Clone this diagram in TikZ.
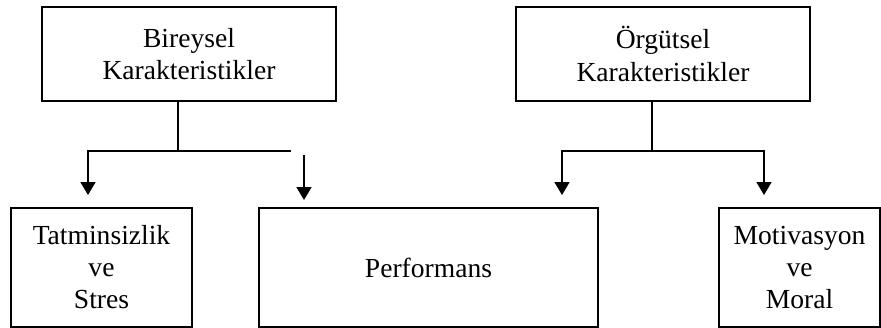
\documentclass[tikz,border=0pt]{standalone}
\usepackage{fontspec}
\setmainfont{Liberation Serif}
\usepackage{tikz}
\usetikzlibrary{shapes,arrows}
\usetikzlibrary{positioning}
\usetikzlibrary{arrows.meta}

\tikzset{
	box/.style={draw, line width=0.9pt, inner sep=0pt, align=center,
		font=\fontsize{19.6}{22.8}\selectfont},
	arr/.style={line width=0.9pt, -{Triangle[width=10.7pt,length=9.2pt]}},
	arrs/.style={line width=0.9pt, {Triangle[width=10.7pt,length=9.2pt]}-{Triangle[width=10.7pt,length=9.2pt]}},
	wire/.style={line width=0.9pt}
}

\begin{document}
\begin{tikzpicture}[x=0.025cm, y=-0.025cm]

	\useasboundingbox (0,0) rectangle (881,328);

	\node [box, minimum width=7.35cm, minimum height=2.35cm] (bireysel) at (189,54) {Bireysel\\Karakteristikler};
	\node [box, minimum width=7.35cm, minimum height=2.35cm] (orgutsel) at (663,54) {Örgütsel\\Karakteristikler};
	
	\node [box, minimum width=4.525cm, minimum height=2.975cm] (tatmin) at (101.5,267.5) {Tatminsizlik\\ve\\Stres};
	\node [box, minimum width=8.475cm, minimum height=2.975cm] (perf) at (428.5,267.5) {Performans};
	\node [box, minimum width=4.025cm, minimum height=2.975cm] (motiv) at (799.5,267.5) {Motivasyon\\ve\\Moral};
	
	\coordinate (bj) at (178,151);
	\coordinate (bl) at (88,151);
	\coordinate (br) at (291,151);
	\coordinate (ta) at (88,195);
	\coordinate (ps) at (304,155);
	\coordinate (pa) at (304,200);
	
	\coordinate (oj) at (652,151);
	\coordinate (ol) at (562,151);
	\coordinate (or) at (764,151);
	\coordinate (pb) at (562,195);
	\coordinate (ma) at (764,195);
	
	\draw [wire] (bireysel.south -| bj) -- (bj);
	\draw [arr] (br) -- (bl) -- (ta);
	\draw [arr] (ps) -- (pa);
	
	\draw [wire] (orgutsel.south -| oj) -- (oj);
	\draw [arrs] (pb) -- (ol) -- (or) -- (ma);

\end{tikzpicture}
\end{document}
